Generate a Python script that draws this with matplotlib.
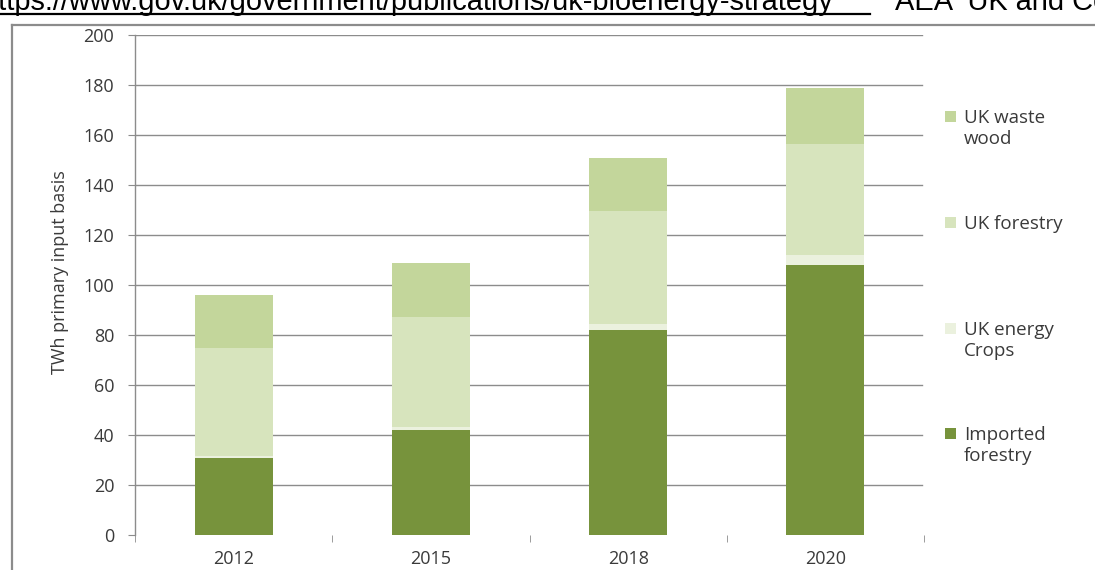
import matplotlib
matplotlib.use("Agg")
import matplotlib.pyplot as plt
from matplotlib.patches import Rectangle
from matplotlib.lines import Line2D
import numpy as np

# Bioenergy supply by source, TWh (primary input basis)
years = ["2012", "2015", "2018", "2020"]
imported_forestry = [31, 42, 82, 108]
uk_energy_crops = [0.5, 1.2, 2.5, 4]
uk_forestry = [43.5, 44, 45, 44.5]
uk_waste_wood = [21, 21.8, 21.5, 22.5]

series_names = ["Imported\nforestry", "UK energy\nCrops", "UK forestry", "UK waste\nwood"]
series_values = [imported_forestry, uk_energy_crops, uk_forestry, uk_waste_wood]
series_colors = ["#77933C", "#EBF1DE", "#D7E4BD", "#C3D69B"]

y_ticks = [0, 20, 40, 60, 80, 100, 120, 140, 160, 180, 200]

W, H = 1095, 570
fig = plt.figure(figsize=(W / 100, H / 100), dpi=100)
plt.rcParams["font.family"] = ["Open Sans", "DejaVu Sans"]
txt_color = "#3a3a3a"

# Outer frame (left and top edges visible)
fig.add_artist(Line2D([12 / W, 12 / W], [0, 1 - 25 / H], color="#8c8c8c", lw=1.6))
fig.add_artist(Line2D([12 / W, 1], [1 - 25 / H, 1 - 25 / H], color="#8c8c8c", lw=1.6))

# Source line above the chart
fig.text(833 / W, 1 - 10 / H, "https://www.gov.uk/government/publications/uk-bioenergy-strategy",
         family=["Liberation Sans"], fontsize=20.9, ha="right", va="baseline", color="#000000")
fig.add_artist(Line2D([0, 870 / W], [1 - 14 / H, 1 - 14 / H], color="#000000", lw=1.6))
fig.text(895 / W, 1 - 10 / H, "AEA  UK and Commission",
         family=["Liberation Sans"], fontsize=20.9, ha="left", va="baseline", color="#000000")

ax = fig.add_axes([135 / W, 1 - 535 / H, (924 - 135) / W, 500 / H])
x = np.arange(len(years))
bottom = np.zeros(len(years))
for name, vals, col in zip(series_names, series_values, series_colors):
    ax.bar(x, vals, width=0.395, bottom=bottom, color=col, edgecolor="none", zorder=3, label=name)
    bottom += np.array(vals)

ax.set_xlim(-0.5, len(years) - 0.5)
ax.set_ylim(0, 200)
ax.set_yticks(y_ticks)
ax.set_yticklabels([str(t) for t in y_ticks], fontsize=13, color=txt_color)
for t in y_ticks[1:]:
    ax.plot([-0.5 + 1 / 197, len(years) - 0.5 - 2 / 197], [t, t], color="#8c8c8c", lw=1.0, zorder=1)

ax.set_xticks(x)
ax.set_xticklabels(years, fontsize=13, color=txt_color)
ax.set_xticks(np.arange(-0.5, len(years)), minor=True)
ax.tick_params(axis="x", which="major", length=0, pad=11)
ax.tick_params(axis="x", which="minor", length=5, color="#8c8c8c", direction="out", pad=0)
ax.tick_params(axis="y", length=5, color="#8c8c8c", pad=10)

for s in ["top", "right", "bottom"]:
    ax.spines[s].set_visible(False)
ax.spines["left"].set_color("#8c8c8c")
ax.spines["left"].set_linewidth(1.0)

fig.text(60 / W, 1 - 272 / H, "TWh primary input basis", rotation=90, fontsize=13,
         ha="center", va="center", color=txt_color)

# Legend entries, top to bottom
legend_y = [116, 222, 328, 433]
for name, col, ly in zip(series_names[::-1], series_colors[::-1], legend_y):
    fig.add_artist(Rectangle((945 / W, 1 - (ly + 5.5) / H), 11 / W, 11 / H,
                             facecolor=col, edgecolor="none"))
    fig.text(964 / W, 1 - (ly - 7) / H, name, fontsize=13.5, ha="left", va="top",
             color=txt_color, linespacing=1.2)

fig.savefig("out.png", dpi=100)
